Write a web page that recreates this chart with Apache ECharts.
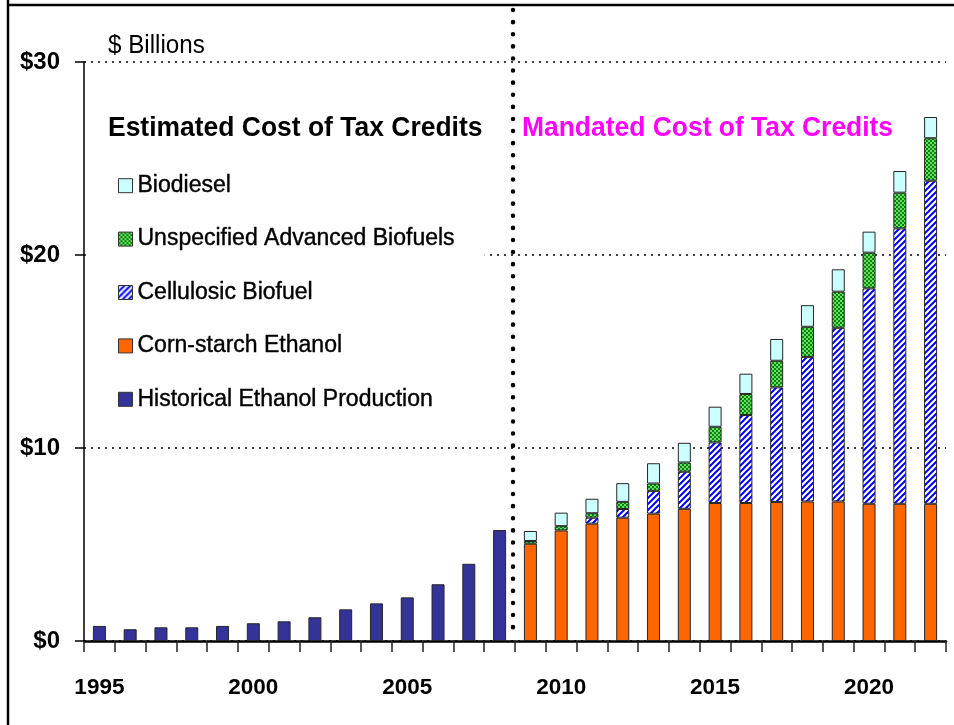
<!DOCTYPE html>
<html>
<head>
<meta charset="utf-8">
<script src="https://cdn.jsdelivr.net/npm/echarts@6/dist/echarts.min.js"></script>
<style>
html,body{margin:0;padding:0;background:#fff;}
#chart{width:954px;height:725px;}
</style>
</head>
<body>
<div id="chart"></div>
<script>
// ---- data ----
const years = ['1995','1996','1997','1998','1999','2000','2001','2002','2003','2004','2005','2006','2007','2008',
               '2009','2010','2011','2012','2013','2014','2015','2016','2017','2018','2019','2020','2021','2022'];
const historical = [0.78,0.61,0.71,0.71,0.78,0.92,1.02,1.23,1.64,1.95,2.26,2.94,4.0,5.75,
                    null,null,null,null,null,null,null,null,null,null,null,null,null,null];
const cornStarch = [null,null,null,null,null,null,null,null,null,null,null,null,null,null,
                    5.04,5.73,6.08,6.39,6.6,6.85,7.15,7.15,7.2,7.23,7.23,7.11,7.11,7.11];
const cellulosic = [null,null,null,null,null,null,null,null,null,null,null,null,null,null,
                    null,null,0.31,0.45,1.18,1.92,3.14,4.56,5.94,7.49,9.0,11.16,14.27,16.74];
const unspecified = [null,null,null,null,null,null,null,null,null,null,null,null,null,null,
                     0.14,0.22,0.23,0.37,0.38,0.48,0.81,1.09,1.38,1.56,1.87,1.85,1.85,2.2];
const biodiesel = [null,null,null,null,null,null,null,null,null,null,null,null,null,null,
                   0.52,0.7,0.75,0.97,1.05,1.02,1.04,1.05,1.13,1.12,1.16,1.09,1.12,1.1];
const yTicks = [0, 10, 20, 30];
const seriesNames = ['Historical Ethanol Production','Corn-starch Ethanol','Cellulosic Biofuel','Unspecified Advanced Biofuels','Biodiesel'];
const legendOrder = ['Biodiesel','Unspecified Advanced Biofuels','Cellulosic Biofuel','Corn-starch Ethanol','Historical Ethanol Production'];
const lastHistorical = '2008';
const firstMandated = '2009';

// ---- styles ----
const FONT = '"Liberation Sans",Arial,Helvetica,sans-serif';

function stripePattern(){
  const c = document.createElement('canvas'); c.width = 6; c.height = 6;
  const g = c.getContext('2d');
  g.fillStyle = '#ffffff'; g.fillRect(0,0,6,6);
  g.strokeStyle = '#0000ff'; g.lineWidth = 2;
  g.beginPath();
  g.moveTo(-1,7); g.lineTo(7,-1);
  g.moveTo(-1,1); g.lineTo(1,-1);
  g.moveTo(5,7); g.lineTo(7,5);
  g.stroke();
  return c;
}
function checkPattern(){
  const c = document.createElement('canvas'); c.width = 4; c.height = 4;
  const g = c.getContext('2d');
  g.fillStyle = '#008a00'; g.fillRect(0,0,4,4);
  g.fillStyle = '#6fd86f'; g.fillRect(0,0,2,2); g.fillRect(2,2,2,2);
  return c;
}
const colors = {
  'Historical Ethanol Production': '#333399',
  'Corn-starch Ethanol': '#ff6600',
  'Cellulosic Biofuel': {image: stripePattern(), repeat: 'repeat'},
  'Unspecified Advanced Biofuels': {image: checkPattern(), repeat: 'repeat'},
  'Biodiesel': '#ccffff'
};
const dataByName = {
  'Historical Ethanol Production': historical,
  'Corn-starch Ethanol': cornStarch,
  'Cellulosic Biofuel': cellulosic,
  'Unspecified Advanced Biofuels': unspecified,
  'Biodiesel': biodiesel
};

const chart = echarts.init(document.getElementById('chart'), null, {renderer:'canvas'});
const option = {
  animation: false,
  backgroundColor: '#ffffff',
  grid: {left: 84, right: 8, top: 62, bottom: 84},
  legend: {
    data: legendOrder,
    orient: 'vertical',
    left: 86, top: 160,
    padding: [14, 30, 14, 32],
    backgroundColor: '#ffffff',
    itemWidth: 14, itemHeight: 14, itemGap: 30,
    icon: 'rect',
    itemStyle: {borderColor: '#333', borderWidth: 1},
    textStyle: {fontFamily: FONT, fontSize: 23, color: '#000', lineHeight: 22,
                textBorderColor: '#000', textBorderWidth: 0.4},
    selectedMode: false
  },
  xAxis: {
    type: 'category',
    data: years,
    boundaryGap: true,
    axisLine: {lineStyle: {color: '#000', width: 2.5}},
    axisTick: {show: true, interval: 0, length: 11, lineStyle: {color: '#222', width: 1.5}},
    axisLabel: {
      interval: function(i, v){ return Number(v) % 5 === 0; },
      margin: 35,
      fontFamily: FONT, fontSize: 22.5, fontWeight: 'bold', color: '#000'
    },
    splitLine: {show: false}
  },
  yAxis: {
    type: 'value',
    min: yTicks[0], max: yTicks[yTicks.length-1], interval: yTicks[1]-yTicks[0],
    axisLine: {show: true, lineStyle: {color: '#000', width: 1.5}},
    axisTick: {show: true, length: 9, lineStyle: {color: '#000', width: 1.5}},
    axisLabel: {
      formatter: function(v){ return '$' + v; },
      margin: 24,
      fontFamily: FONT, fontSize: 24, fontWeight: 'bold', color: '#000'
    },
    splitLine: {show: true, lineStyle: {color: '#000', type: [2, 5], width: 1.5}}
  },
  series: seriesNames.map(function(n){
    return {
      name: n, type: 'bar', stack: 'total', barWidth: 13,
      data: dataByName[n],
      itemStyle: {color: colors[n], borderColor: '#262626', borderWidth: 1}
    };
  })
};
chart.setOption(option);

// decorations computed from the chart's own scales
const xA = chart.convertToPixel({xAxisIndex: 0}, lastHistorical);
const xB = chart.convertToPixel({xAxisIndex: 0}, firstMandated);
const xDiv = (xA + xB) / 2 - 2;
const yZero = chart.convertToPixel({yAxisIndex: 0}, 0);
chart.setOption({
  graphic: [
    {type: 'line', z: 100, shape: {x1: 8, y1: 0, x2: 8, y2: 725}, style: {stroke: '#000', lineWidth: 2.5}},
    {type: 'line', z: 100, shape: {x1: 8, y1: 5, x2: 954, y2: 5}, style: {stroke: '#000', lineWidth: 2.5}},
    {type: 'line', z: 100, shape: {x1: xDiv, y1: 10, x2: xDiv, y2: yZero - 12},
     style: {stroke: '#000', lineWidth: 4.5, lineDash: [0.1, 12], lineCap: 'round'}},
    {type: 'text', z: 100, x: 108, y: 46, scaleX: 0.93,
     style: {text: '$ Billions', font: '26px ' + FONT, fill: '#000', verticalAlign: 'middle'}},
    {type: 'text', z: 100, x: 108, y: 128, scaleX: 0.945,
     style: {text: 'Estimated Cost of Tax Credits', font: 'bold 28px ' + FONT, fill: '#000', verticalAlign: 'middle'}},
    {type: 'text', z: 100, x: 522, y: 128, scaleX: 0.944,
     style: {text: 'Mandated Cost of Tax Credits', font: 'bold 28px ' + FONT, fill: '#ff00ff', verticalAlign: 'middle'}}
  ]
});
</script>
</body>
</html>
